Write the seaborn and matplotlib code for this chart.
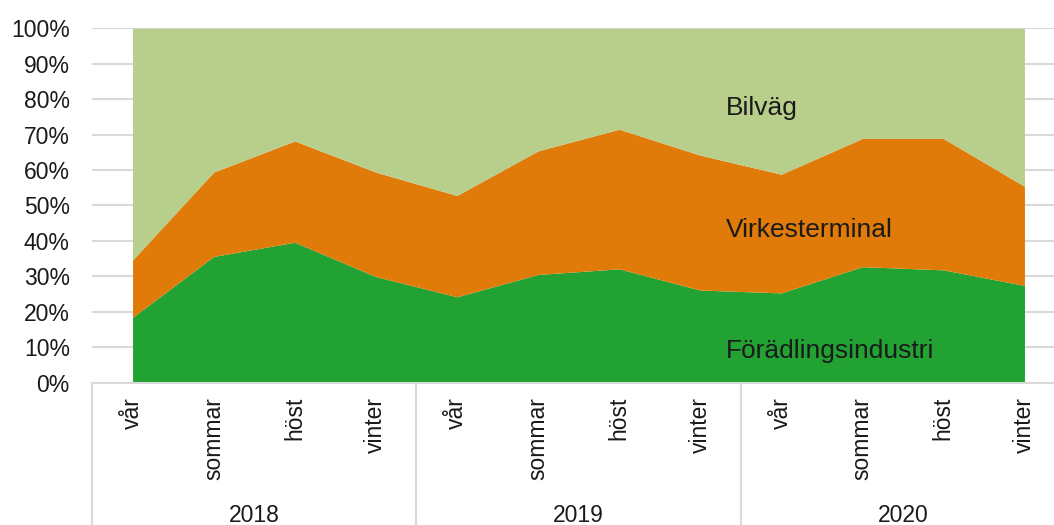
import numpy as np
import pandas as pd
import matplotlib
matplotlib.use('Agg')
import matplotlib.pyplot as plt
import matplotlib.transforms as mtransforms
import seaborn as sns

years = ['2018', '2019', '2020']
seasons = ['vår', 'sommar', 'höst', 'vinter']

# shares in percent
foradling = [18.4, 35.6, 39.6, 29.9, 24.2, 30.5, 32.1, 26.1, 25.3, 32.7, 31.8, 27.4]
virkesterminal = [16.2, 23.8, 28.6, 29.5, 28.6, 34.9, 39.4, 38.1, 33.5, 36.2, 37.1, 28.0]
bilvag = [65.4, 40.6, 31.8, 40.6, 47.2, 34.6, 28.5, 35.8, 41.2, 31.1, 31.1, 44.6]

labels = ['Förädlingsindustri', 'Virkesterminal', 'Bilväg']
colors = ['#21A232', '#E07B0A', '#B8CF8B']

df = pd.DataFrame({
    'year': np.repeat(years, len(seasons)),
    'season': seasons * len(years),
    'Förädlingsindustri': foradling,
    'Virkesterminal': virkesterminal,
    'Bilväg': bilvag,
})
df['pos'] = np.arange(len(df))

sns.set_style('white')
plt.rcParams['font.family'] = ['Liberation Sans', 'DejaVu Sans']
txt = '#1a1a1a'

fig = plt.figure(figsize=(10.54, 5.25), dpi=100)
ax = fig.add_axes([92 / 1054, 1 - 382.5 / 525, 973 / 1054, 354.2 / 525])

ax.stackplot(df['pos'], [df[l] / 100 for l in labels], colors=colors, linewidth=0)

ax.set_xlim(-0.5, 11.5)
ax.set_ylim(0, 1)
ax.set_yticks(np.arange(0, 1.01, 0.1))
ax.set_yticklabels([f'{int(round(v * 100))}%' for v in np.arange(0, 1.01, 0.1)],
                   fontsize=16.5, color=txt)
ax.tick_params(axis='y', length=0, pad=16)
ax.set_xticks([])
ax.yaxis.grid(True, color='#D9D9D9', linewidth=1.5)
ax.set_axisbelow(True)
for s in ['top', 'right', 'left']:
    ax.spines[s].set_visible(False)
ax.spines['bottom'].set_color('#D9D9D9')
ax.spines['bottom'].set_linewidth(1.5)

# series labels
ax.text(7.32, 0.775, 'Bilväg', fontsize=19, va='center', ha='left', color=txt)
ax.text(7.32, 0.43, 'Virkesterminal', fontsize=19, va='center', ha='left', color=txt)
ax.text(7.32, 0.09, 'Förädlingsindustri', fontsize=19, va='center', ha='left', color=txt)

# two-level category axis
trans = mtransforms.blended_transform_factory(ax.transData, ax.transAxes)
for i, row in df.iterrows():
    ax.text(row['pos'], -0.04, row['season'], rotation=90, ha='center', va='top',
            fontsize=16.5, color=txt, transform=trans)
for k, y in enumerate(years):
    ax.text(k * 4 + 1.5, -0.375, y, ha='center', va='center', fontsize=16.5,
            color=txt, transform=trans)
for xb in [-0.5, 3.5, 7.5, 11.5]:
    ax.plot([xb, xb], [0, -0.41], color='#D9D9D9', linewidth=1.5,
            transform=trans, clip_on=False)

fig.savefig('out.png', dpi=100)
